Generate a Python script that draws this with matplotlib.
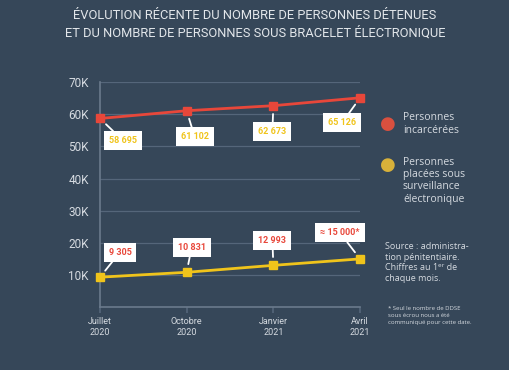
import matplotlib.pyplot as plt

BG = '#364759'
RED = '#e8473a'
YEL = '#f0c41b'
GRID = '#55667a'
TXT = '#d5dae0'

mois = ['Juillet\n2020', 'Octobre\n2020', 'Janvier\n2021', 'Avril\n2021']
detenus = [58695, 61102, 62673, 65126]
bracelet = [9305, 10831, 12993, 15000]
lab_detenus = ['58 695', '61 102', '62 673', '65 126']
lab_bracelet = ['9 305', '10 831', '12 993', '≈ 15 000*']
yticks = [10000, 20000, 30000, 40000, 50000, 60000, 70000]
ylabels = ['10K', '20K', '30K', '40K', '50K', '60K', '70K']

plt.rcParams['font.family'] = ['Roboto', 'DejaVu Sans']

fig = plt.figure(figsize=(5.1, 3.7), dpi=100, facecolor=BG)
ax = fig.add_axes([0.196, 0.170, 0.510, 0.608], facecolor=BG)

x = list(range(len(mois)))
ax.plot(x, detenus, '-s', color=RED, lw=2, ms=6, clip_on=False, zorder=3)
ax.plot(x, bracelet, '-s', color=YEL, lw=2, ms=6, clip_on=False, zorder=3)

ax.set_xlim(0, 3)
ax.set_ylim(0, 70000)
ax.set_yticks(yticks)
ax.set_yticklabels(ylabels, fontsize=8.5, color=TXT)
ax.set_xticks(x)
ax.set_xticklabels(mois, fontsize=6.5, color=TXT, linespacing=1.3)
ax.tick_params(axis='y', length=0, pad=8)
ax.tick_params(axis='x', length=4, color=GRID, width=1.2, pad=3)
ax.grid(axis='y', color=GRID, lw=0.9)
ax.set_axisbelow(True)
for s in ['top', 'right']:
    ax.spines[s].set_visible(False)
for s in ['left', 'bottom']:
    ax.spines[s].set_color('#6a7a8c')
    ax.spines[s].set_linewidth(1.2)

# bulles (offsets en pixels)
off_det = [(23, -22), (8, -26), (-1, -26), (-18, -25)]
off_bra = [(20, 25), (5, 25), (-1, 25), (-20, 26)]
box = dict(boxstyle='square,pad=0.55', fc='white', ec='none')
for i in x:
    ax.annotate(lab_detenus[i], (x[i], detenus[i]), xytext=off_det[i],
                textcoords='offset pixels', ha='center', va='center',
                fontsize=6.5, fontweight='bold', color=YEL, bbox=box,
                arrowprops=dict(arrowstyle='-', color='white', lw=1.3,
                                shrinkA=0, shrinkB=6), zorder=4,
                annotation_clip=False)
    ax.annotate(lab_bracelet[i], (x[i], bracelet[i]), xytext=off_bra[i],
                textcoords='offset pixels', ha='center', va='center',
                fontsize=6.5, fontweight='bold', color=RED, bbox=box,
                arrowprops=dict(arrowstyle='-', color='white', lw=1.3,
                                shrinkA=0, shrinkB=6), zorder=4,
                annotation_clip=False)

fig.text(0.5, 0.957, 'ÉVOLUTION RÉCENTE DU NOMBRE DE PERSONNES DÉTENUES',
         ha='center', va='center', fontsize=9.3, color='#e2e6ea')
fig.text(0.5, 0.911, 'ET DU NOMBRE DE PERSONNES SOUS BRACELET ÉLECTRONIQUE',
         ha='center', va='center', fontsize=9.3, color='#e2e6ea')

# légende
fig.text(388 / 510, 1 - 124 / 370, '●', ha='center', va='center',
         fontsize=13, color='#d9503f', family='DejaVu Sans')
fig.text(403 / 510, 1 - 124 / 370, 'Personnes\nincarcérées', ha='left', va='center',
         fontsize=7.5, color=TXT, linespacing=1.15, family='Open Sans')
fig.text(388 / 510, 1 - 165 / 370, '●', ha='center', va='center',
         fontsize=13, color='#d8b13a', family='DejaVu Sans')
fig.text(403 / 510, 1 - 157 / 370, 'Personnes\nplacées sous\nsurveillance\nélectronique',
         ha='left', va='top', fontsize=7.5, color=TXT, linespacing=1.15,
         family='Open Sans')

fig.text(385 / 510, 1 - 242 / 370,
         'Source : administra-\ntion pénitentiaire.\nChiffres au 1ᵉʳ de\nchaque mois.',
         ha='left', va='top', fontsize=6.5, color=TXT, linespacing=1.25,
         family=['Open Sans', 'DejaVu Sans'])
fig.text(388 / 510, 1 - 306 / 370,
         '* Seul le nombre de DDSE\nsous écrou nous a été\ncommuniqué pour cette date.',
         ha='left', va='top', fontsize=4.3, color=TXT, linespacing=1.5,
         family='Open Sans')

fig.savefig('out.png', dpi=100, facecolor=BG)
